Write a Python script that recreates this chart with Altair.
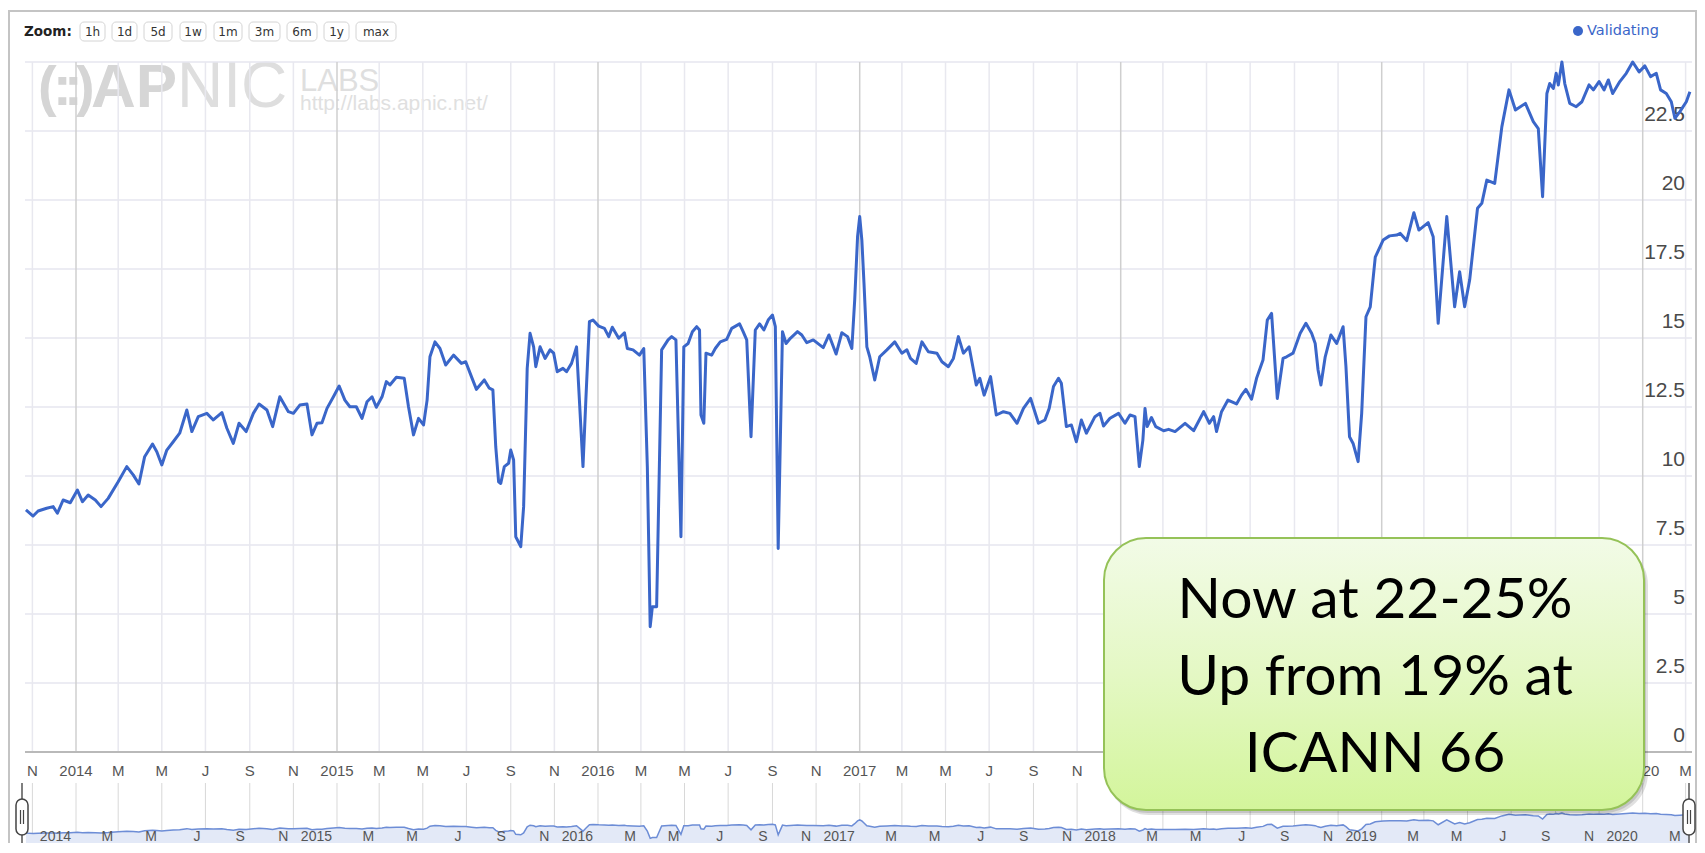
import altair as alt
import pandas as pd

# ---------------- data ----------------
dates = [
    "2013-10-23", "2013-11-02", "2013-11-09", "2013-11-21", "2013-11-30", "2013-12-06", "2013-12-14", "2013-12-24",
    "2014-01-03", "2014-01-10", "2014-01-18", "2014-01-28", "2014-02-05", "2014-02-15", "2014-03-01", "2014-03-13",
    "2014-03-22", "2014-03-30", "2014-04-07", "2014-04-18", "2014-04-24", "2014-05-01", "2014-05-08", "2014-05-17",
    "2014-05-26", "2014-06-05", "2014-06-12", "2014-06-21", "2014-07-03", "2014-07-12", "2014-07-24", "2014-07-31",
    "2014-08-09", "2014-08-17", "2014-08-27", "2014-09-06", "2014-09-14", "2014-09-25", "2014-10-03", "2014-10-13",
    "2014-10-25", "2014-11-01", "2014-11-10", "2014-11-20", "2014-11-27", "2014-12-04", "2014-12-11", "2014-12-18",
    "2014-12-27", "2015-01-04", "2015-01-12", "2015-01-19", "2015-01-28", "2015-02-05", "2015-02-12", "2015-02-19",
    "2015-02-25", "2015-03-05", "2015-03-11", "2015-03-16", "2015-03-25", "2015-04-05", "2015-04-11", "2015-04-18",
    "2015-04-25", "2015-05-02", "2015-05-07", "2015-05-11", "2015-05-18", "2015-05-25", "2015-06-02", "2015-06-13",
    "2015-06-24", "2015-06-30", "2015-07-08", "2015-07-15", "2015-07-26", "2015-08-02", "2015-08-07", "2015-08-11",
    "2015-08-15", "2015-08-18", "2015-08-23", "2015-08-29", "2015-09-01", "2015-09-05", "2015-09-08", "2015-09-15",
    "2015-09-19", "2015-09-24", "2015-09-28", "2015-10-03", "2015-10-06", "2015-10-12", "2015-10-19", "2015-10-26",
    "2015-10-31", "2015-11-05", "2015-11-13", "2015-11-18", "2015-11-25", "2015-12-02", "2015-12-08", "2015-12-11",
    "2015-12-15", "2015-12-20", "2015-12-25", "2016-01-02", "2016-01-10", "2016-01-16", "2016-01-21", "2016-01-30",
    "2016-02-07", "2016-02-11", "2016-02-19", "2016-02-28", "2016-03-05", "2016-03-10", "2016-03-14", "2016-03-17",
    "2016-03-23", "2016-03-30", "2016-04-08", "2016-04-13", "2016-04-19", "2016-04-26", "2016-04-30", "2016-05-06",
    "2016-05-12", "2016-05-18", "2016-05-22", "2016-05-24", "2016-05-28", "2016-05-31", "2016-06-08", "2016-06-13",
    "2016-06-20", "2016-06-29", "2016-07-06", "2016-07-17", "2016-07-22", "2016-07-27", "2016-08-02", "2016-08-08",
    "2016-08-14", "2016-08-20", "2016-08-26", "2016-09-01", "2016-09-05", "2016-09-09", "2016-09-15", "2016-09-20",
    "2016-09-26", "2016-10-06", "2016-10-12", "2016-10-19", "2016-10-28", "2016-11-11", "2016-11-19", "2016-11-29",
    "2016-12-07", "2016-12-15", "2016-12-21", "2016-12-25", "2016-12-29", "2017-01-01", "2017-01-04", "2017-01-07",
    "2017-01-11", "2017-01-15", "2017-01-22", "2017-01-29", "2017-02-08", "2017-02-19", "2017-03-01", "2017-03-08",
    "2017-03-13", "2017-03-21", "2017-03-29", "2017-04-07", "2017-04-19", "2017-04-26", "2017-05-05", "2017-05-12",
    "2017-05-19", "2017-05-26", "2017-06-03", "2017-06-13", "2017-06-18", "2017-06-24", "2017-07-03", "2017-07-11",
    "2017-07-21", "2017-07-30", "2017-08-09", "2017-08-18", "2017-08-28", "2017-09-08", "2017-09-17", "2017-09-23",
    "2017-09-29", "2017-10-06", "2017-10-10", "2017-10-17", "2017-10-24", "2017-10-31", "2017-11-07", "2017-11-14",
    "2017-11-26", "2017-12-03", "2017-12-08", "2017-12-17", "2017-12-29", "2018-01-07", "2018-01-14", "2018-01-21",
    "2018-01-27", "2018-02-01", "2018-02-04", "2018-02-07", "2018-02-13", "2018-02-19", "2018-03-02", "2018-03-09",
    "2018-03-18", "2018-04-01", "2018-04-13", "2018-04-27", "2018-05-05", "2018-05-11", "2018-05-15", "2018-05-22",
    "2018-05-31", "2018-06-12", "2018-06-19", "2018-06-25", "2018-07-03", "2018-07-10", "2018-07-19", "2018-07-25",
    "2018-07-31", "2018-08-08", "2018-08-16", "2018-08-21", "2018-08-30", "2018-09-09", "2018-09-17", "2018-09-25",
    "2018-09-30", "2018-10-04", "2018-10-08", "2018-10-14", "2018-10-22", "2018-10-30", "2018-11-08", "2018-11-12",
    "2018-11-17", "2018-11-22", "2018-11-29", "2018-12-04", "2018-12-10", "2018-12-16", "2018-12-23", "2019-01-03",
    "2019-01-12", "2019-01-22", "2019-01-27", "2019-02-05", "2019-02-15", "2019-02-22", "2019-03-07", "2019-03-14",
    "2019-03-21", "2019-04-02", "2019-04-13", "2019-04-20", "2019-04-27", "2019-05-04", "2019-05-15", "2019-05-21",
    "2019-05-28", "2019-06-08", "2019-06-18", "2019-06-28", "2019-07-07", "2019-07-21", "2019-08-01", "2019-08-08",
    "2019-08-14", "2019-08-20", "2019-08-24", "2019-08-29", "2019-09-02", "2019-09-05", "2019-09-10", "2019-09-14",
    "2019-09-21", "2019-09-30", "2019-10-08", "2019-10-18", "2019-10-24", "2019-11-01", "2019-11-08", "2019-11-14",
    "2019-11-20", "2019-11-30", "2019-12-09", "2019-12-18", "2019-12-27", "2020-01-04", "2020-01-12", "2020-01-20",
    "2020-01-26", "2020-02-03", "2020-02-10", "2020-02-15", "2020-02-22", "2020-03-02", "2020-03-07",
]
values = [
    8.77, 8.55, 8.73, 8.83, 8.89, 8.65, 9.13, 9.03,
    9.49, 9.07, 9.31, 9.13, 8.89, 9.19, 9.79, 10.34,
    10.04, 9.71, 10.70, 11.16, 10.88, 10.40, 10.94, 11.24,
    11.55, 12.39, 11.61, 12.15, 12.27, 12.03, 12.30, 11.73,
    11.18, 11.91, 11.61, 12.27, 12.61, 12.39, 11.79, 12.87,
    12.33, 12.27, 12.57, 12.61, 11.49, 11.91, 11.93, 12.45,
    12.87, 13.26, 12.75, 12.51, 12.51, 12.09, 12.69, 12.87,
    12.49, 12.87, 13.42, 13.30, 13.58, 13.54, 12.51, 11.49,
    12.09, 11.85, 12.75, 14.32, 14.86, 14.62, 14.02, 14.38,
    14.08, 14.14, 13.60, 13.14, 13.48, 13.18, 13.12, 11.06,
    9.79, 9.73, 10.34, 10.46, 10.94, 10.58, 7.80, 7.44,
    8.89, 13.90, 15.17, 14.68, 13.96, 14.68, 14.26, 14.57,
    14.45, 13.78, 13.90, 13.78, 14.08, 14.68, 11.79, 10.34,
    12.75, 15.59, 15.65, 15.43, 15.35, 15.05, 15.39, 14.99,
    15.19, 14.62, 14.57, 14.38, 14.62, 10.34, 4.54, 5.26,
    5.26, 14.57, 14.93, 15.05, 14.93, 7.80, 14.68, 14.80,
    15.23, 15.41, 15.29, 12.21, 11.91, 14.45, 14.38, 14.62,
    14.86, 14.95, 15.35, 15.51, 15.23, 14.93, 11.42, 15.29,
    15.51, 15.29, 15.65, 15.83, 15.41, 7.37, 15.23, 14.80,
    14.99, 15.23, 15.11, 14.83, 14.93, 14.65, 15.11, 14.42,
    15.19, 15.05, 14.62, 16.38, 18.67, 19.40, 18.55, 16.98,
    14.68, 14.32, 13.48, 14.32, 14.57, 14.86, 14.45, 14.57,
    14.26, 14.08, 14.86, 14.50, 14.45, 14.14, 13.96, 14.26,
    15.05, 14.45, 14.68, 13.30, 13.54, 12.93, 13.60, 12.21,
    12.33, 12.27, 11.91, 12.45, 12.81, 11.91, 12.03, 12.45,
    13.24, 13.54, 13.36, 11.79, 11.85, 11.24, 12.03, 11.55,
    12.15, 12.27, 11.81, 12.09, 12.27, 11.91, 12.21, 12.15,
    10.34, 11.30, 12.45, 11.79, 12.12, 11.79, 11.64, 11.69,
    11.61, 11.91, 11.64, 12.33, 11.91, 12.15, 11.61, 12.33,
    12.75, 12.61, 12.93, 13.14, 12.78, 13.54, 14.20, 15.65,
    15.89, 12.81, 14.26, 14.32, 14.45, 15.17, 15.53, 15.17,
    14.80, 13.84, 13.30, 14.32, 15.11, 14.80, 15.41, 13.96,
    11.42, 11.18, 10.52, 12.27, 15.77, 16.13, 17.93, 18.55,
    18.70, 18.73, 18.79, 18.53, 19.54, 18.91, 19.18, 18.67,
    15.53, 19.40, 16.13, 17.40, 16.13, 17.10, 19.70, 19.88,
    20.72, 20.60, 22.65, 23.99, 23.26, 23.50, 22.84, 22.59,
    20.12, 23.86, 24.22, 24.04, 24.59, 24.17, 25.00, 24.22,
    23.50, 23.38, 23.56, 24.17, 23.99, 24.29, 23.99, 24.35,
    23.86, 24.29, 24.59, 25.00, 24.64, 24.86, 24.47, 24.59,
    23.99, 23.86, 23.56, 22.96, 23.20, 23.56, 23.92,
]

tick_months = [
    "2013-11-01",
    "2014-01-01", "2014-03-01", "2014-05-01", "2014-07-01", "2014-09-01", "2014-11-01",
    "2015-01-01", "2015-03-01", "2015-05-01", "2015-07-01", "2015-09-01", "2015-11-01",
    "2016-01-01", "2016-03-01", "2016-05-01", "2016-07-01", "2016-09-01", "2016-11-01",
    "2017-01-01", "2017-03-01", "2017-05-01", "2017-07-01", "2017-09-01", "2017-11-01",
    "2018-01-01", "2018-03-01", "2018-05-01", "2018-07-01", "2018-09-01", "2018-11-01",
    "2019-01-01", "2019-03-01", "2019-05-01", "2019-07-01", "2019-09-01", "2019-11-01",
    "2020-01-01", "2020-03-01",
]
tick_labels = [
    "N",
    "2014", "M", "M", "J", "S", "N",
    "2015", "M", "M", "J", "S", "N",
    "2016", "M", "M", "J", "S", "N",
    "2017", "M", "M", "J", "S", "N",
    "2018", "M", "M", "J", "S", "N",
    "2019", "M", "M", "J", "S", "N",
    "2020", "M",
]
grid_values = [0, 2.5, 5, 7.5, 10, 12.5, 15, 17.5, 20, 22.5, 25]
y_tick_values = [0, 2.5, 5, 7.5, 10, 12.5, 15, 17.5, 20, 22.5]
y_tick_labels = ["0", "2.5", "5", "7.5", "10", "12.5", "15", "17.5", "20", "22.5"]
zoom_buttons = ["1h", "1d", "5d", "1w", "1m", "3m", "6m", "1y", "max"]
series_name = "Validating"
callout_lines = ["Now at 22-25%", "Up from 19% at", "ICANN 66"]

# ---------------- layout (pixels, chart coordinates) ----------------
W, H = 1689, 835
PL, PR, PT, PB = 17, 1684, 54, 744
NAV_T, NAV_B = 775, 835
BLUE = "#3a66c9"
FONT = "Liberation Sans"

x_scale = alt.Scale(
    domain=[alt.DateTime(year=2014, month=1, date=1, utc=True),
            alt.DateTime(year=2020, month=1, date=1, utc=True)],
    range=[68, 1634.7], nice=False)
main_y = alt.Scale(domain=[0, 25], range=[PB, PT], nice=False, zero=False)
nav_y = alt.Scale(domain=[0, 25], range=[836, 805], nice=False, zero=False)

df = pd.DataFrame({"date": dates, "value": values})
ticks = pd.DataFrame({"date": tick_months, "label": tick_labels})
year_ticks = ticks[ticks["label"].str.len() == 4]
month_ticks = ticks[ticks["label"].str.len() != 4]
nav_ticks = ticks.iloc[1:]
grid_df = pd.DataFrame({"v": grid_values})
ylab_df = pd.DataFrame({"v": y_tick_values, "t": y_tick_labels})

X = alt.X("date:T", scale=x_scale, axis=None)


def text_layer(text, x, y, size, color, font=FONT, weight="normal", align="left",
               baseline="alphabetic"):
    return alt.Chart(pd.DataFrame({"t": [text]})).mark_text(
        align=align, baseline=baseline, font=font, fontSize=size,
        fontWeight=weight, color=color
    ).encode(x=alt.value(x), y=alt.value(y), text="t:N")


def box(x1, x2, y1, y2, **kw):
    return alt.Chart(pd.DataFrame({"k": [0]})).mark_rect(**kw).encode(
        x=alt.value(x1), x2=alt.value(x2), y=alt.value(y1), y2=alt.value(y2))


def vline(x, y1, y2, color, width):
    return alt.Chart(pd.DataFrame({"k": [0]})).mark_rule(
        color=color, strokeWidth=width).encode(
        x=alt.value(x), y=alt.value(y1), y2=alt.value(y2))


layers = []

# frame
layers.append(box(1, 1688, 3, 850, fill="white", stroke="#c4c4c4", strokeWidth=2))

# watermark  "(::)APNIC LABS"
WMC = "#d5d5d5"
layers.append(text_layer("(", 30, 97, 56, WMC, weight="bold"))
layers.append(text_layer(":", 45, 97, 56, WMC, weight="bold"))
layers.append(text_layer(":", 56, 97, 56, WMC, weight="bold"))
layers.append(text_layer(")", 68, 97, 56, WMC, weight="bold"))
layers.append(text_layer("AP", 83, 99, 62, "#d6d6d6", weight="bold"))
layers.append(text_layer("NIC", 169, 99, 64, "#dedede"))
layers.append(text_layer("LABS", 292, 83, 31, "#dfdfdf"))
layers.append(text_layer("http://labs.apnic.net/", 292, 102, 21, "#e0e0e0"))

# zoom row
layers.append(text_layer("Zoom:", 16, 24, 13.5, "#222", font="DejaVu Sans", weight="bold",
                         baseline="middle"))
btn_left = [72, 104, 136, 172, 206, 241, 279, 316, 348]
btn_right = [97, 129, 164, 198, 234, 272, 309, 341, 388]
for lab, a, b in zip(zoom_buttons, btn_left, btn_right):
    layers.append(box(a, b, 14, 33, fill="white", stroke="#d4d4d4", strokeWidth=1,
                      cornerRadius=4))
    layers.append(text_layer(lab, (a + b) / 2, 24, 12, "#333", font="DejaVu Sans",
                             align="center", baseline="middle"))

# legend
layers.append(alt.Chart(pd.DataFrame({"k": [0]})).mark_circle(
    size=100, color=BLUE, opacity=1).encode(x=alt.value(1570), y=alt.value(23)))
layers.append(text_layer(series_name, 1579, 23, 14.5, BLUE, font="DejaVu Sans",
                         baseline="middle"))

# horizontal gridlines
layers.append(alt.Chart(grid_df).mark_rule(color="#e6e6ef", strokeWidth=1.5).encode(
    y=alt.Y("v:Q", scale=main_y, axis=None), x=alt.value(PL), x2=alt.value(PR)))

# vertical gridlines (main + navigator)
for dfx, col in ((month_ticks, "#e8e8ef"), (year_ticks, "#cfcfcf")):
    layers.append(alt.Chart(dfx).mark_rule(color=col, strokeWidth=1.5).encode(
        x=X, y=alt.value(PT), y2=alt.value(PB)))
    layers.append(alt.Chart(dfx).mark_rule(color="#d8d8d8", strokeWidth=1).encode(
        x=X, y=alt.value(NAV_T), y2=alt.value(NAV_B)))

# axis baseline
layers.append(alt.Chart(pd.DataFrame({"v": [0]})).mark_rule(
    color="#b9b9b9", strokeWidth=2).encode(
    y=alt.Y("v:Q", scale=main_y, axis=None), x=alt.value(PL), x2=alt.value(PR)))

# navigator area + line
layers.append(alt.Chart(df).mark_area(color="#e3e9f7", opacity=1).encode(
    x=X, y=alt.Y("value:Q", scale=nav_y, axis=None), y2=alt.value(NAV_B)))
layers.append(alt.Chart(df).mark_line(color="#6d8dd6", strokeWidth=1.5).encode(
    x=X, y=alt.Y("value:Q", scale=nav_y, axis=None)))

# y labels (inside right)
layers.append(alt.Chart(ylab_df).mark_text(
    align="right", baseline="alphabetic", dy=-10, font=FONT, fontSize=21,
    color="#4a4a4a").encode(
    y=alt.Y("v:Q", scale=main_y, axis=None), x=alt.value(1677), text="t:N"))

# x labels (main)
layers.append(alt.Chart(ticks).mark_text(
    align="center", baseline="middle", font=FONT, fontSize=15, color="#555").encode(
    x=X, y=alt.value(763), text="label:N"))

# navigator labels
layers.append(alt.Chart(nav_ticks).mark_text(
    align="right", baseline="alphabetic", dx=-5, font=FONT, fontSize=14,
    color="#555").encode(x=X, y=alt.value(833), text="label:N"))

# main line
layers.append(alt.Chart(df).mark_line(
    color=BLUE, strokeWidth=3, strokeJoin="round").encode(
    x=X, y=alt.Y("value:Q", scale=main_y, axis=None)))

# navigator handles
for hx in (14, 1681):
    layers.append(vline(hx, NAV_T, NAV_B, "#555", 1.5))
    layers.append(box(hx - 6, hx + 6, 791, 827, fill="white", stroke="#444",
                      strokeWidth=1.5, cornerRadius=6))
    layers.append(vline(hx - 1.5, 802, 816, "#444", 1.2))
    layers.append(vline(hx + 1.5, 802, 816, "#444", 1.2))

# callout box
layers.append(box(1099, 1640, 535, 807, fill="#000000", opacity=0.12, cornerRadius=42))
layers.append(box(1098, 1638, 533, 805, fill="#000000", opacity=0.12, cornerRadius=42))
grad = alt.LinearGradient(
    gradient="linear",
    stops=[alt.GradientStop(color="#f2fbe7", offset=0),
           alt.GradientStop(color="#e4f8c4", offset=0.5),
           alt.GradientStop(color="#d3f59b", offset=1)],
    x1=0, x2=0, y1=0, y2=1)
layers.append(box(1096, 1636, 530, 802, fill=grad, stroke="#95c258", strokeWidth=2,
                  cornerRadius=42))
for line, yb in zip(callout_lines, (610, 687, 764)):
    layers.append(text_layer(line, 1367, yb, 57, "#000000", font="Lato", align="center"))

chart = alt.layer(*layers).resolve_scale(y="independent").properties(
    width=W, height=H, autosize=alt.AutoSizeParams(type="none"), padding=0,
    background="white"
).configure_view(stroke=None)

chart.save("out.html", embed_options={"renderer": "svg", "actions": False})
